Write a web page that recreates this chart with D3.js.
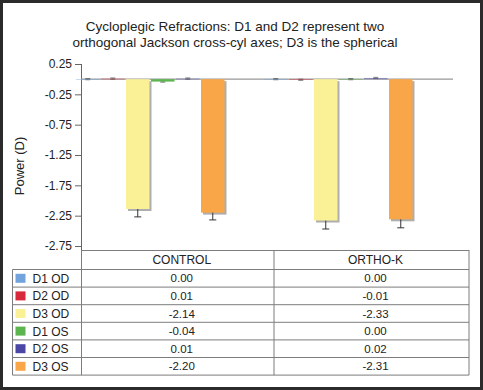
<!DOCTYPE html>
<html><head><meta charset="utf-8">
<script src="https://cdn.jsdelivr.net/npm/d3@7"></script>
<style>body{margin:0;background:#fff}svg{display:block;font-family:"Liberation Sans",Arial,Helvetica,sans-serif}</style>
</head><body>
<script>
const categories = ["CONTROL", "ORTHO-K"];
const series = ["D1 OD", "D2 OD", "D3 OD", "D1 OS", "D2 OS", "D3 OS"];
const colors = ["#72a3dc", "#d8283c", "#faf197", "#5cb54e", "#4b47a6", "#f8a647"];
const controlValues = [0.00, 0.01, -2.14, -0.04, 0.01, -2.20];
const orthoKValues = [0.00, -0.01, -2.33, 0.00, 0.02, -2.31];
const controlErrors = [0.01, 0.01, 0.13, 0.01, 0.01, 0.12];
const orthoKErrors = [0.01, 0.01, 0.14, 0.01, 0.01, 0.14];
const yTicks = [0.25, -0.25, -0.75, -1.25, -1.75, -2.25, -2.75];
const titleLines = ["Cycloplegic Refractions: D1 and D2 represent two",
                    "orthogonal Jackson cross-cyl axes; D3 is the spherical"];
const yLabel = "Power (D)";

const W = 483, H = 390;
const svg = d3.select("body").append("svg").attr("width", W).attr("height", H);
svg.append("rect").attr("width", W).attr("height", H).attr("fill", "#fff");

const valuesByCat = {"CONTROL": controlValues, "ORTHO-K": orthoKValues};
const errorsByCat = {"CONTROL": controlErrors, "ORTHO-K": orthoKErrors};
const data = [];
categories.forEach(c => series.forEach((s, i) => data.push({
  cat: c, s, i, v: valuesByCat[c][i], e: errorsByCat[c][i], color: colors[i]})));

const axisX = 81, plotRight = 453, tableTop = 250;
const y = d3.scaleLinear().domain([0.25, -2.75]).range([64, 246]);
const x0 = d3.scaleBand().domain(categories).range([57, 433]);
const x1 = d3.scaleBand().domain(series).range([19, 169]);
const bw = x1.bandwidth() - 1.5;

// title
svg.append("g").selectAll("text").data(titleLines).join("text")
  .attr("x", 235).attr("y", (d, i) => 31 + i * 16)
  .attr("text-anchor", "middle").attr("font-size", 13.5).attr("fill", "#222")
  .text(d => d);

// y label
svg.append("text").attr("transform", "translate(24,166) rotate(-90)")
  .attr("text-anchor", "middle").attr("font-size", 13).attr("fill", "#222").text(yLabel);

// y axis
const yAxis = d3.axisLeft(y).tickValues(yTicks).tickFormat(d => d.toFixed(2)).tickSize(6).tickPadding(3);
const gy = svg.append("g").attr("transform", `translate(${axisX},0)`).call(yAxis);
gy.select(".domain").remove();
gy.selectAll(".tick line").attr("stroke", "#666");
gy.selectAll(".tick text").attr("font-size", 12).attr("fill", "#222")
  .attr("font-family", '"Liberation Sans",Arial,sans-serif');
svg.append("line").attr("x1", axisX + 0.5).attr("x2", axisX + 0.5)
  .attr("y1", y(0.25)).attr("y2", tableTop).attr("stroke", "#666");

// zero line
svg.append("line").attr("x1", axisX).attr("x2", plotRight)
  .attr("y1", y(0)).attr("y2", y(0)).attr("stroke", "#999").attr("stroke-width", 1.2);

const barX = d => x0(d.cat) + x1(d.s);
const barY = d => Math.min(y(d.v), y(0));
const barH = d => Math.max(Math.abs(y(d.v) - y(0)), 0.8);

// shadows
svg.append("g").selectAll("rect").data(data.filter(d => Math.abs(d.v) > 0.05)).join("rect")
  .attr("x", d => barX(d) + 2).attr("y", d => barY(d) + 2)
  .attr("width", bw).attr("height", d => barH(d))
  .attr("fill", "#8c8c8c").attr("opacity", 0.7);

// error bars
const eg = svg.append("g").attr("stroke", "#333").attr("stroke-width", 1);
data.forEach(d => {
  const cx = barX(d) + bw / 2;
  const lo = y(d.v - d.e), hi = y(d.v + d.e);
  const cw = d.e < 0.05 ? 2.5 : 3.5;
  const g = eg.append("g").attr("opacity", d.e < 0.05 ? 0.6 : 1);
  g.append("line").attr("x1", cx).attr("x2", cx).attr("y1", hi).attr("y2", lo);
  g.append("line").attr("x1", cx - cw).attr("x2", cx + cw).attr("y1", lo).attr("y2", lo);
  g.append("line").attr("x1", cx - cw).attr("x2", cx + cw).attr("y1", hi).attr("y2", hi);
});

// bars
svg.append("g").selectAll("rect").data(data).join("rect")
  .attr("x", d => barX(d)).attr("y", d => barY(d))
  .attr("width", bw).attr("height", d => barH(d))
  .attr("fill", d => d.color).attr("opacity", d => Math.abs(d.v) < 0.03 ? 0.5 : 1);

// data table
const colEdges = [12.5, 81.5, 274, 469];
const headH = 19.5, rowH = 17.6;
const rowsTop = tableTop + headH;
const tableBottom = rowsTop + rowH * series.length;
const tg = svg.append("g");
const lineC = "#7d7d7d";
tg.append("line").attr("x1", colEdges[1]).attr("x2", colEdges[3]).attr("y1", tableTop + 0.5).attr("y2", tableTop + 0.5).attr("stroke", lineC);
d3.range(series.length + 1).forEach(k => {
  const yy = rowsTop + k * rowH;
  tg.append("line").attr("x1", colEdges[0]).attr("x2", colEdges[3]).attr("y1", yy).attr("y2", yy).attr("stroke", lineC);
});
tg.append("line").attr("x1", colEdges[0]).attr("x2", colEdges[0]).attr("y1", rowsTop).attr("y2", tableBottom).attr("stroke", lineC);
[1, 2, 3].forEach(k => tg.append("line").attr("x1", colEdges[k]).attr("x2", colEdges[k])
  .attr("y1", tableTop).attr("y2", tableBottom).attr("stroke", lineC));

categories.forEach((c, ci) => {
  const cx = (colEdges[ci + 1] + colEdges[ci + 2]) / 2 + 4;
  tg.append("text").attr("x", cx).attr("y", tableTop + headH / 2 + 4)
    .attr("text-anchor", "middle").attr("font-size", 12).attr("fill", "#222").text(c);
  valuesByCat[c].forEach((v, i) => {
    tg.append("text").attr("x", cx).attr("y", rowsTop + i * rowH + rowH / 2 + 4)
      .attr("text-anchor", "middle").attr("font-size", 11.5).attr("fill", "#222").text(v.toFixed(2));
  });
});
series.forEach((s, i) => {
  const cy = rowsTop + i * rowH + rowH / 2;
  tg.append("rect").attr("x", 15.5).attr("y", cy - 4.5).attr("width", 10).attr("height", 9).attr("fill", colors[i]);
  tg.append("text").attr("x", 32.5).attr("y", cy + 4.5).attr("font-size", 12).attr("fill", "#222").text(s);
});

// outer frame
svg.append("rect").attr("x", 1.5).attr("y", 1.5).attr("width", W - 3).attr("height", H - 3)
  .attr("fill", "none").attr("stroke", "#2b2b2b").attr("stroke-width", 3);
</script>
</body></html>
